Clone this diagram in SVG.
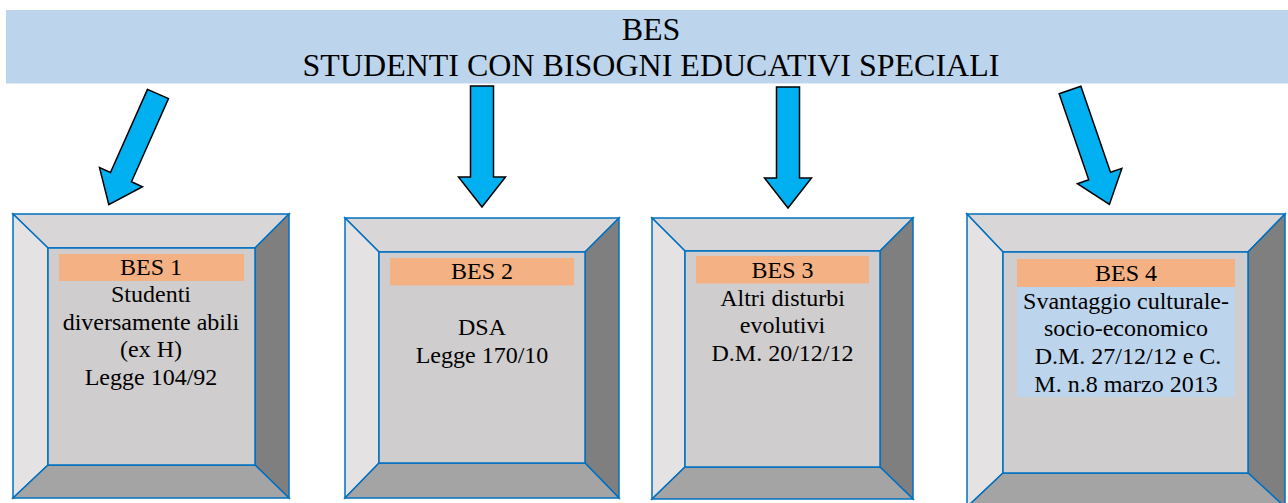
<svg xmlns="http://www.w3.org/2000/svg" xmlns:xlink="http://www.w3.org/1999/xlink" width="1288" height="503" viewBox="0 0 1288 503">
<style>
.t{font-family:"Liberation Serif","Times New Roman",serif;fill:#000;text-anchor:middle}
.bt{font-size:24px}
.hd{font-size:32px}
.fr polygon,.fr rect{stroke:#0070C0;stroke-width:1.5;stroke-linejoin:miter}
.tp{fill:#D8D6D7}.lf{fill:#E4E2E3}.rt{fill:#7F7F7F}.bm{fill:#A5A4A5}.in{fill:#CFCDCE}
.lab{fill:#F4B183}
.arw{fill:#00B0F0;stroke:#000;stroke-width:1.5;stroke-linejoin:miter}
</style>
<defs>
<path id="arr" d="M-11.5,0 H11.5 V91 H23.5 L0,121 L-23.5,91 H-11.5 Z"/>
</defs>
<rect width="1288" height="503" fill="#fff"/>
<g id="header">
<rect x="6" y="10" width="1282" height="73.5" fill="#BDD5EC"/>
<text class="t hd" x="651" y="40">BES</text>
<text class="t hd" x="651" y="76">STUDENTI CON BISOGNI EDUCATIVI SPECIALI</text>
</g>
<g id="connectors">
<use xlink:href="#arr" class="arw" transform="translate(158,94) rotate(24)"/>
<use xlink:href="#arr" class="arw" transform="translate(482,86)"/>
<use xlink:href="#arr" class="arw" transform="translate(788,87)"/>
<use xlink:href="#arr" class="arw" transform="translate(1070,90) rotate(-19)"/>
</g>
<g id="bes1" class="fr">
<polygon class="tp" points="13,214 289,214 255,248 48,248"/>
<polygon class="lf" points="13,214 48,248 48,465 13,498"/>
<polygon class="rt" points="289,214 289,498 255,465 255,248"/>
<polygon class="bm" points="13,498 48,465 255,465 289,498"/>
<rect class="in" x="48" y="248" width="207" height="217"/>
</g>
<g id="bes1-text">
<rect class="lab" x="59" y="254" width="185" height="27"/>
<text class="t bt" x="151" y="275">BES 1</text>
<text class="t bt" x="151" y="302">Studenti</text>
<text class="t bt" x="151" y="330">diversamente abili</text>
<text class="t bt" x="151" y="357">(ex H)</text>
<text class="t bt" x="151" y="385">Legge 104/92</text>
</g>
<g id="bes2" class="fr">
<polygon class="tp" points="345,218 619,218 585,252 379,252"/>
<polygon class="lf" points="345,218 379,252 379,463 345,498"/>
<polygon class="rt" points="619,218 619,498 585,463 585,252"/>
<polygon class="bm" points="345,498 379,463 585,463 619,498"/>
<rect class="in" x="379" y="252" width="206" height="211"/>
</g>
<g id="bes2-text">
<rect class="lab" x="390" y="258" width="184" height="27.5"/>
<text class="t bt" x="482" y="279">BES 2</text>
<text class="t bt" x="482" y="335">DSA</text>
<text class="t bt" x="482" y="363">Legge 170/10</text>
</g>
<g id="bes3" class="fr">
<polygon class="tp" points="652,218 913,218 880,251 685,251"/>
<polygon class="lf" points="652,218 685,251 685,467 652,499"/>
<polygon class="rt" points="913,218 913,499 880,467 880,251"/>
<polygon class="bm" points="652,499 685,467 880,467 913,499"/>
<rect class="in" x="685" y="251" width="195" height="216"/>
</g>
<g id="bes3-text">
<rect class="lab" x="696" y="256" width="173" height="27.5"/>
<text class="t bt" x="782.5" y="278">BES 3</text>
<text class="t bt" x="782.5" y="306">Altri disturbi</text>
<text class="t bt" x="782.5" y="333">evolutivi</text>
<text class="t bt" x="782.5" y="361">D.M. 20/12/12</text>
</g>
<g id="bes4" class="fr">
<polygon class="tp" points="967,214 1285,214 1248,252 1003,252"/>
<polygon class="lf" points="967,214 1003,252 1003,473 967,507"/>
<polygon class="rt" points="1285,214 1285,507 1248,473 1248,252"/>
<polygon class="bm" points="967,507 1003,473 1248,473 1285,507"/>
<rect class="in" x="1003" y="252" width="245" height="221"/>
</g>
<g id="bes4-text">
<rect class="lab" x="1017" y="259" width="218" height="28"/>
<rect x="1017" y="287" width="218" height="110" fill="#BDD5EC"/>
<text class="t bt" x="1126" y="281">BES 4</text>
<text class="t bt" x="1126" y="309">Svantaggio culturale-</text>
<text class="t bt" x="1126" y="336">socio-economico</text>
<text class="t bt" x="1128" y="364">D.M. 27/12/12 e C.</text>
<text class="t bt" x="1126" y="392">M. n.8 marzo 2013</text>
</g>
</svg>
